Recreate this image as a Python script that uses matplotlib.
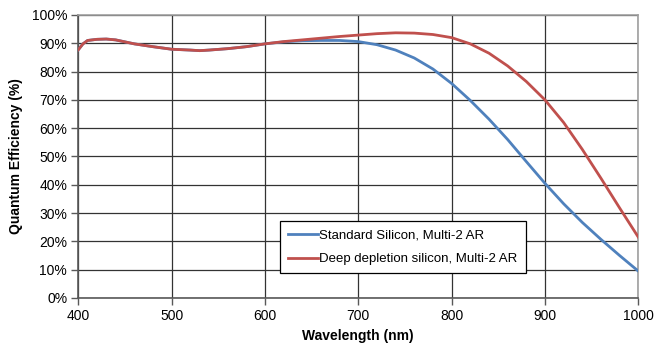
import numpy as np
import matplotlib.pyplot as plt
from matplotlib.ticker import FuncFormatter

plt.rcParams['font.family'] = ['Liberation Sans', 'DejaVu Sans']

# wavelength (nm)
wl = [400, 405, 410, 420, 430, 440, 460, 480, 500, 520, 530, 540, 560, 580,
      600, 620, 640, 660, 680, 700, 720, 740, 760, 780, 800, 820, 840, 860,
      880, 900, 920, 940, 960, 980, 1000]

# quantum efficiency (%)
standard_qe = [87.7, 89.8, 91.0, 91.4, 91.5, 91.2, 89.8, 88.8, 87.9, 87.6, 87.4,
               87.6, 88.1, 88.8, 89.8, 90.5, 90.9, 91.0, 91.0, 90.6, 89.5, 87.6,
               84.8, 80.9, 75.8, 69.8, 63.2, 56.0, 48.2, 40.5, 33.3, 26.7, 20.7,
               15.0, 9.5]
deep_qe = [87.7, 89.8, 91.0, 91.4, 91.5, 91.2, 89.8, 88.8, 87.9, 87.6, 87.4,
           87.6, 88.1, 88.8, 89.8, 90.6, 91.2, 91.8, 92.4, 92.9, 93.4, 93.7,
           93.6, 93.1, 92.0, 89.8, 86.5, 82.0, 76.5, 70.0, 62.0, 52.5, 42.3,
           31.8, 21.5]

labels = ['Standard Silicon, Multi-2 AR', 'Deep depletion silicon, Multi-2 AR']

fig = plt.figure(figsize=(6.59, 3.43), dpi=100)
ax = fig.add_axes([0.1188, 0.1312, 0.8498, 0.8251])

ax.plot(wl, standard_qe, color='#4F81BD', lw=2.0, label=labels[0], zorder=3)
ax.plot(wl, deep_qe, color='#C0504D', lw=2.0, label=labels[1], zorder=3)

ax.set_xlim(400, 1000)
ax.set_ylim(0, 100)
ax.set_xticks(np.arange(400, 1001, 100))
ax.set_yticks(np.arange(0, 101, 10))
ax.yaxis.set_major_formatter(FuncFormatter(lambda v, p: '%d%%' % v))
ax.grid(True, color='#333333', lw=0.9)
ax.set_axisbelow(True)

for s in ['top', 'right']:
    ax.spines[s].set_color('#A0A0A0')
    ax.spines[s].set_linewidth(1.2)
for s in ['left', 'bottom']:
    ax.spines[s].set_color('#595959')
    ax.spines[s].set_linewidth(1.2)
ax.tick_params(axis='both', direction='out', length=5, width=1.0,
               color='#595959', labelsize=10, pad=3)

ax.set_xlabel('Wavelength (nm)', fontsize=10, fontweight='bold', labelpad=4)
ax.set_ylabel('Quantum Efficiency (%)', fontsize=10, fontweight='bold', labelpad=6)

leg = ax.legend(loc='lower left', bbox_to_anchor=(0.36, 0.087), fontsize=9.5,
                frameon=True, fancybox=False, framealpha=1, edgecolor='black',
                handlelength=2.3, handletextpad=0.1, borderpad=0.6,
                labelspacing=0.9, borderaxespad=0)
leg.get_frame().set_linewidth(0.9)

fig.savefig('out.png', dpi=100)
